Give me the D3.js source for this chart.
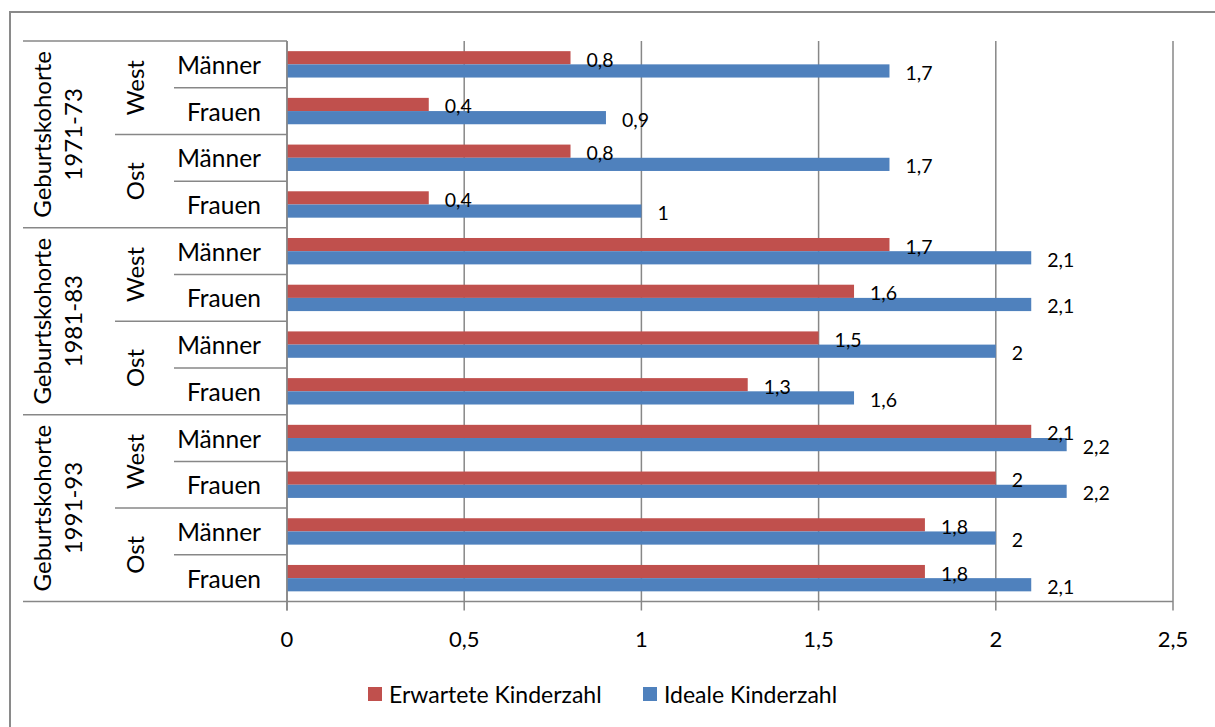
<!DOCTYPE html>
<html>
<head>
<meta charset="utf-8">
<script src="https://cdn.jsdelivr.net/npm/d3@7"></script>
<style>
  html, body { margin: 0; padding: 0; background: #fff; }
  svg { display: block; }
  text { font-family: Lato, "Open Sans", sans-serif; fill: #000; }
</style>
</head>
<body>
<svg id="chart" width="1215" height="727"></svg>
<script>
// Kinderwunsch nach Geburtskohorte, Region und Geschlecht
const cohorts = ["Geburtskohorte\n1971-73", "Geburtskohorte\n1981-83", "Geburtskohorte\n1991-93"];
const regions = ["West", "Ost"];
const sexes = ["Männer", "Frauen"];
const seriesNames = ["Erwartete Kinderzahl", "Ideale Kinderzahl"];
const seriesColors = ["#C0504D", "#4F81BD"];

// one value per row, rows ordered cohort > region > sex
const expected = [0.8, 0.4, 0.8, 0.4, 1.7, 1.6, 1.5, 1.3, 2.1, 2.0, 1.8, 1.8];
const ideal    = [1.7, 0.9, 1.7, 1.0, 2.1, 2.1, 2.0, 1.6, 2.2, 2.2, 2.0, 2.1];
const xTicks = [0, 0.5, 1, 1.5, 2, 2.5];

const rows = [];
cohorts.forEach((c, ci) => regions.forEach((r, ri) => sexes.forEach((s, si) => {
  const i = rows.length;
  rows.push({ id: i, cohort: ci, region: ri, sex: s, values: [expected[i], ideal[i]] });
})));

const svg = d3.select("#chart");
const fmt = v => String(v).replace(".", ",");
const gridColor = "#878787";

// outer chart frame (runs past the right and bottom edge)
svg.append("rect")
  .attr("x", 10).attr("y", 12).attr("width", 1230).attr("height", 740)
  .attr("fill", "none").attr("stroke", "#8a8a8a").attr("stroke-width", 2);

const plot = { left: 287, right: 1173, top: 41, bottom: 601.5 };

const x = d3.scaleLinear().domain([0, 2.5]).range([plot.left, plot.right]);
const y = d3.scaleBand().domain(rows.map(d => d.id)).range([plot.top, plot.bottom]).padding(0);
const ySub = d3.scaleBand().domain([0, 1]).range([0, y.bandwidth()]).paddingInner(0).paddingOuter(0.77);

// vertical gridlines with ticks below the axis
svg.append("g").selectAll("line")
  .data(xTicks)
  .join("line")
  .attr("x1", d => x(d)).attr("x2", d => x(d))
  .attr("y1", plot.top).attr("y2", plot.bottom + 9)
  .attr("stroke", gridColor).attr("stroke-width", 1.5);

// horizontal axis line
svg.append("line")
  .attr("x1", plot.left).attr("x2", plot.right)
  .attr("y1", plot.bottom).attr("y2", plot.bottom)
  .attr("stroke", gridColor).attr("stroke-width", 1.5);

// x tick labels
svg.append("g").selectAll("text")
  .data(xTicks)
  .join("text")
  .attr("x", d => x(d)).attr("y", 638)
  .attr("text-anchor", "middle").attr("dominant-baseline", "central")
  .style("font-size", "22px")
  .text(d => fmt(d));

// bars
const rowG = svg.append("g").selectAll("g")
  .data(rows)
  .join("g")
  .attr("transform", d => `translate(0,${y(d.id)})`);

rowG.selectAll("rect")
  .data(d => d.values.map((v, k) => ({ v, k })))
  .join("rect")
  .attr("x", x(0))
  .attr("y", d => ySub(d.k))
  .attr("width", d => x(d.v) - x(0))
  .attr("height", ySub.bandwidth())
  .attr("fill", d => seriesColors[d.k]);

// value labels
rowG.selectAll("text")
  .data(d => d.values.map((v, k) => ({ v, k })))
  .join("text")
  .attr("x", d => x(d.v) + 16)
  .attr("y", d => ySub(d.k) + ySub.bandwidth() / 2 + 1.5)
  .attr("dominant-baseline", "central")
  .style("font-size", "19.5px")
  .text(d => fmt(d.v));

// category axis: separator lines for the three levels
const rowH = y.bandwidth();
const levelX = [23, 115, 174];
const sepG = svg.append("g").attr("stroke", gridColor).attr("stroke-width", 1.5);
for (let i = 0; i <= rows.length; i++) {
  const yy = plot.top + i * rowH;
  let x0;
  if (i % 4 === 0) x0 = levelX[0];
  else if (i % 2 === 0) x0 = levelX[1];
  else x0 = levelX[2];
  sepG.append("line").attr("x1", x0).attr("x2", plot.left).attr("y1", yy).attr("y2", yy);
}
// vertical category axis line
sepG.append("line").attr("x1", plot.left).attr("x2", plot.left)
  .attr("y1", plot.top).attr("y2", plot.bottom + 9);

// sex labels
svg.append("g").selectAll("text")
  .data(rows)
  .join("text")
  .attr("x", 261)
  .attr("y", d => y(d.id) + rowH / 2)
  .attr("text-anchor", "end").attr("dominant-baseline", "central")
  .style("font-size", "24.5px")
  .text(d => d.sex);

// region labels (rotated)
const regionItems = [];
cohorts.forEach((c, ci) => regions.forEach((r, ri) => regionItems.push({ name: r, idx: ci * 2 + ri })));
svg.append("g").selectAll("text")
  .data(regionItems)
  .join("text")
  .attr("transform", d => `translate(134,${plot.top + (d.idx * 2 + 1) * rowH}) rotate(-90)`)
  .attr("text-anchor", "middle").attr("dominant-baseline", "central")
  .style("font-size", "24px")
  .text(d => d.name);

// cohort labels (rotated, two lines)
const cohortG = svg.append("g").selectAll("text")
  .data(cohorts)
  .join("text")
  .attr("transform", (d, i) => `translate(57,${plot.top + (i * 4 + 2) * rowH}) rotate(-90)`)
  .attr("text-anchor", "middle")
  .style("font-size", "24px");
cohortG.selectAll("tspan")
  .data(d => d.split("\n"))
  .join("tspan")
  .attr("x", 0)
  .attr("dy", (d, i) => i === 0 ? "-0.25em" : "1.3em")
  .text(d => d);

// legend
const legendItems = [
  { name: seriesNames[0], color: seriesColors[0], x: 368 },
  { name: seriesNames[1], color: seriesColors[1], x: 643 }
];
const lg = svg.append("g").selectAll("g")
  .data(legendItems)
  .join("g")
  .attr("transform", d => `translate(${d.x},687)`);
lg.append("rect").attr("width", 14).attr("height", 14).attr("fill", d => d.color);
lg.append("text").attr("x", 21).attr("y", 7)
  .attr("dominant-baseline", "central")
  .style("font-size", "23px")
  .text(d => d.name);
</script>
</body>
</html>
